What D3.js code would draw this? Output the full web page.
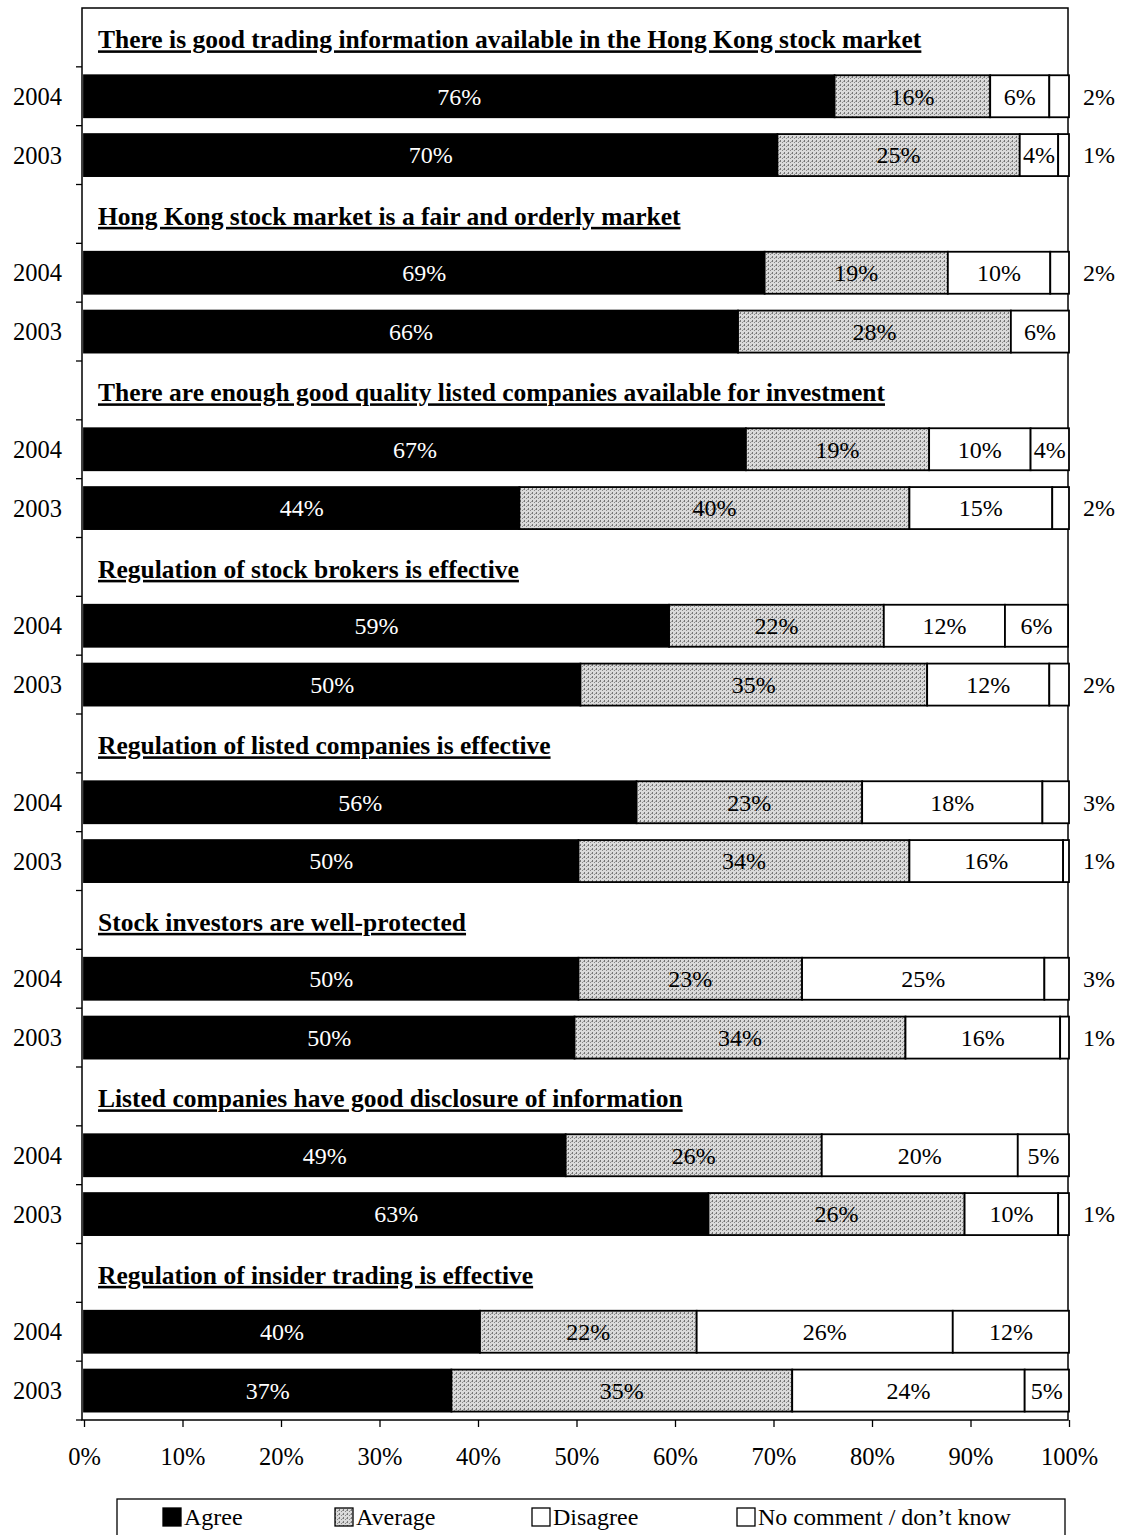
<!DOCTYPE html>
<html>
<head>
<meta charset="utf-8">
<script src="https://cdn.jsdelivr.net/npm/d3@7"></script>
<style>
  html, body { margin: 0; padding: 0; background: #fff; }
  svg { display: block; font-family: "Liberation Serif", "Times New Roman", serif; }
</style>
</head>
<body>
<svg id="chart" width="1123" height="1535"></svg>
<script>
// Survey statements, each shown with a 2004 and a 2003 bar
const questions = [
  "There is good trading information available in the Hong Kong stock market",
  "Hong Kong stock market is a fair and orderly market",
  "There are enough good quality listed companies available for investment",
  "Regulation of stock brokers is effective",
  "Regulation of listed companies is effective",
  "Stock investors are well-protected",
  "Listed companies have good disclosure of information",
  "Regulation of insider trading is effective"
];
const years = ["2004", "2003"];
const seriesNames = ["Agree", "Average", "Disagree", "No comment / don\u2019t know"];

// Shares (%) per bar, ordered question by question: 2004 then 2003
const agree     = [76.2, 70.4, 69.1, 66.4, 67.2, 44.2, 59.4, 50.4, 56.1, 50.2, 50.2, 49.8, 48.9, 63.4, 40.2, 37.3];
const average   = [15.8, 24.6, 18.6, 27.7, 18.6, 39.6, 21.8, 35.2, 22.9, 33.6, 22.7, 33.6, 26.0, 26.0, 22.0, 34.6];
const disagree  = [ 6.0,  3.9, 10.4,  5.9, 10.3, 14.5, 12.3, 12.4, 18.3, 15.6, 24.6, 15.7, 19.9,  9.5, 26.0, 23.6];
const noComment = [ 2.0,  1.1,  1.9,  0.0,  3.9,  1.7,  6.4,  2.0,  2.7,  0.6,  2.5,  0.9,  5.2,  1.1, 11.8,  4.5];

const xTicks = [0, 10, 20, 30, 40, 50, 60, 70, 80, 90, 100];

const svg = d3.select("#chart");
const plot = { left: 84, right: 1069, top: 8, bottom: 1420 };
const barH = 42;

// Average fill: a halftone-like grey dot pattern
const defs = svg.append("defs");
const pat = defs.append("pattern")
  .attr("id", "avgFill").attr("patternUnits", "userSpaceOnUse")
  .attr("width", 4).attr("height", 4);
pat.append("rect").attr("width", 4).attr("height", 4).attr("fill", "#dadada");
pat.append("rect").attr("x", 0).attr("y", 0).attr("width", 1).attr("height", 2).attr("fill", "#777");
pat.append("rect").attr("x", 2).attr("y", 2).attr("width", 1).attr("height", 1).attr("fill", "#888");
pat.append("rect").attr("x", 3).attr("y", 1).attr("width", 1).attr("height", 1).attr("fill", "#a0a0a0");

const fills = ["#000", "url(#avgFill)", "#fff", "#fff"];

// Row keys: a title row followed by one row per year for each question
const rows = [];
questions.forEach((q, qi) => {
  rows.push({ key: `t${qi}`, type: "title", qi });
  years.forEach((yr, yi) => rows.push({ key: `b${qi}-${yi}`, type: "bar", qi, yi, year: yr, idx: qi * 2 + yi }));
});

const x = d3.scaleLinear().domain([0, 100]).range([plot.left, plot.right]);
const y = d3.scaleBand().domain(rows.map(r => r.key)).range([plot.top, plot.bottom]).padding(0);

// Stack the four series
const table = agree.map((a, i) => ({
  [seriesNames[0]]: a, [seriesNames[1]]: average[i],
  [seriesNames[2]]: disagree[i], [seriesNames[3]]: noComment[i], idx: i
}));
const stacked = d3.stack().keys(seriesNames)(table);
const barRows = rows.filter(r => r.type === "bar");
const rowOf = i => barRows.find(r => r.idx === i);

// Plot frame
svg.append("rect")
  .attr("x", plot.left - 2).attr("y", plot.top)
  .attr("width", plot.right - plot.left + 1).attr("height", plot.bottom - plot.top)
  .attr("fill", "none").attr("stroke", "#000").attr("stroke-width", 1.5);

// Bars
stacked.forEach((layer, si) => {
  svg.append("g").selectAll("rect")
    .data(layer.filter(d => d[1] - d[0] > 0))
    .join("rect")
    .attr("x", d => x(d[0]))
    .attr("y", d => y(rowOf(d.data.idx).key) + (y.bandwidth() - barH) / 2)
    .attr("width", d => x(d[1]) - x(d[0]))
    .attr("height", barH)
    .attr("fill", fills[si])
    .attr("stroke", "#000").attr("stroke-width", 1.8);
});

// Value labels: small "no comment" shares sit outside the frame
const fmt = v => Math.round(v) + "%";
stacked.forEach((layer, si) => {
  layer.forEach(d => {
    const v = d[1] - d[0];
    if (v <= 0) return;
    const r = rowOf(d.data.idx);
    const cy = y(r.key) + y.bandwidth() / 2;
    const inside = si < 3 || v >= 3.5;
    svg.append("text")
      .attr("x", inside ? (x(d[0]) + x(d[1])) / 2 : plot.right + 30)
      .attr("y", cy)
      .attr("dy", "0.35em")
      .attr("text-anchor", "middle")
      .attr("font-size", 24)
      .attr("fill", si === 0 ? "#fff" : "#000")
      .text(fmt(v));
  });
});

// Question titles
rows.filter(r => r.type === "title").forEach(r => {
  svg.append("text")
    .attr("x", plot.left + 14)
    .attr("y", y(r.key) + y.bandwidth() / 2 + 2)
    .attr("dy", "0.35em")
    .attr("font-size", 25.5)
    .attr("font-weight", "bold")
    .attr("text-decoration", "underline")
    .text(questions[r.qi]);
});

// Year labels
barRows.forEach(r => {
  svg.append("text")
    .attr("x", 62).attr("y", y(r.key) + y.bandwidth() / 2)
    .attr("dy", "0.35em").attr("text-anchor", "end")
    .attr("font-size", 24.5)
    .text(r.year);
});

// Category boundary ticks on the left axis
svg.append("g").selectAll("line")
  .data(rows.slice(1).map(r => y(r.key)).concat([plot.bottom]))
  .join("line")
  .attr("x1", plot.left - 8).attr("x2", plot.left - 2)
  .attr("y1", d => d).attr("y2", d => d)
  .attr("stroke", "#000").attr("stroke-width", 1.3);

// Bottom percentage axis
const xAxis = svg.append("g")
  .attr("transform", `translate(0,${plot.bottom})`)
  .call(d3.axisBottom(x).tickValues(xTicks).tickFormat(d => d + "%").tickSize(7).tickPadding(21).tickSizeOuter(0));
xAxis.select(".domain").remove();
xAxis.selectAll("line").attr("stroke", "#000").attr("stroke-width", 1.3);
xAxis.selectAll("text")
  .attr("font-family", "Liberation Serif, Times New Roman, serif")
  .attr("font-size", 24.5).attr("fill", "#000");

// Legend
const legend = svg.append("g");
legend.append("rect")
  .attr("x", 117).attr("y", 1499).attr("width", 948).attr("height", 60)
  .attr("fill", "#fff").attr("stroke", "#000").attr("stroke-width", 1.3);
const legendX = [163, 335, 532, 737];
seriesNames.forEach((name, i) => {
  const g = legend.append("g").attr("transform", `translate(${legendX[i]},1517)`);
  g.append("rect").attr("x", 0).attr("y", -9).attr("width", 18).attr("height", 18)
    .attr("fill", fills[i]).attr("stroke", "#000").attr("stroke-width", 1.3);
  g.append("text").attr("x", 21).attr("y", 0).attr("dy", "0.35em")
    .attr("font-size", 24).text(name);
});
</script>
</body>
</html>
